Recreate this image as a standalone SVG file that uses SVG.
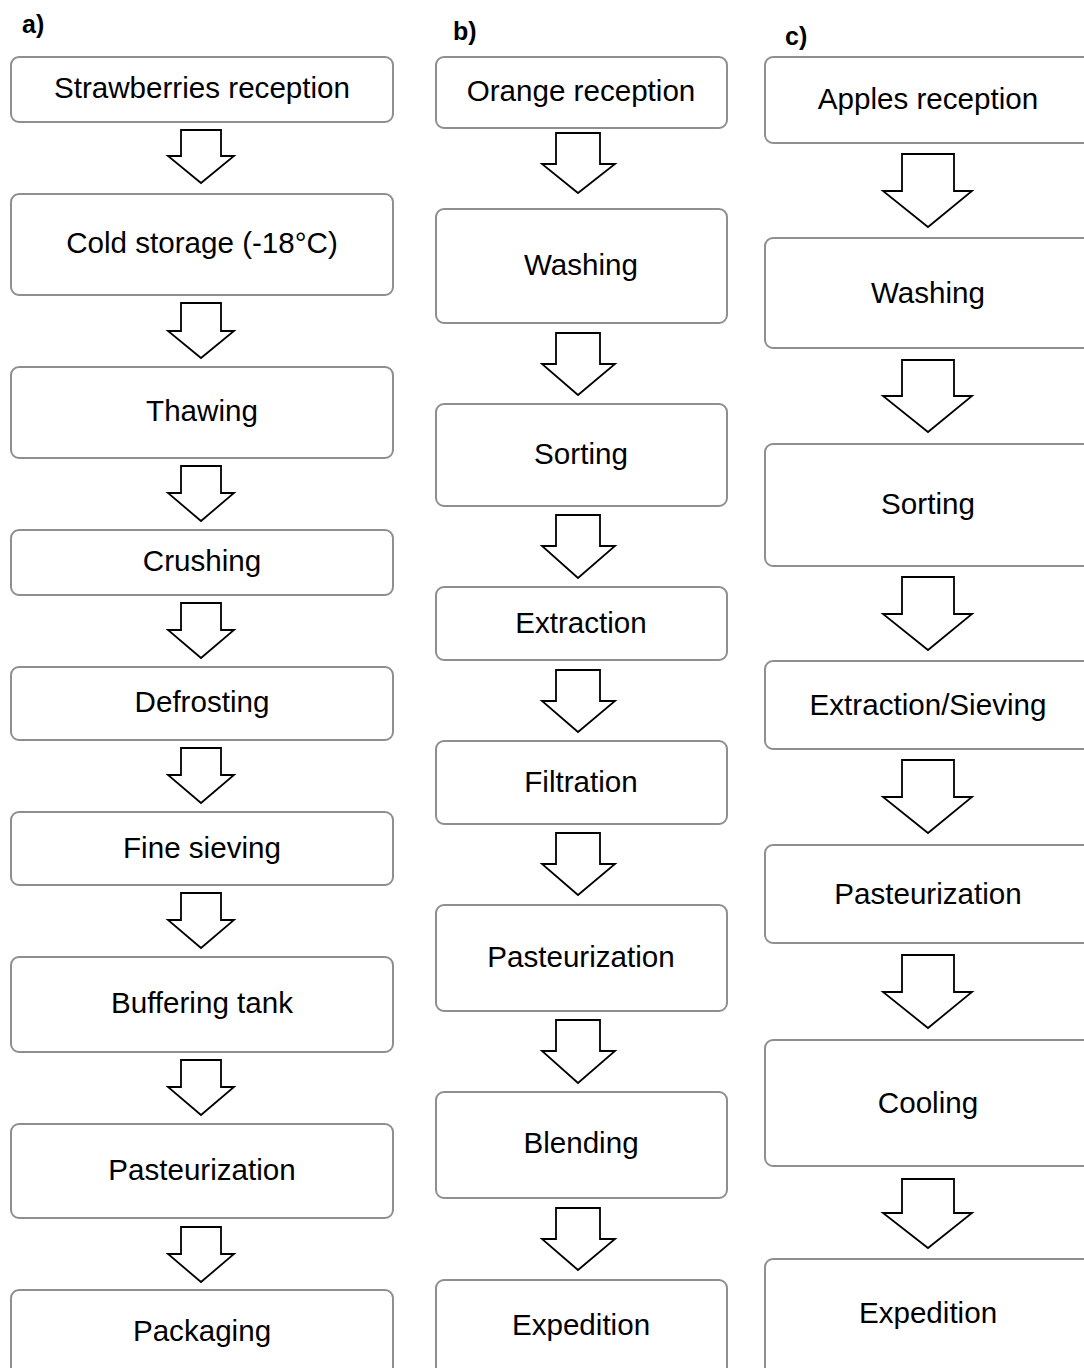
<svg xmlns="http://www.w3.org/2000/svg" width="1084" height="1368" viewBox="0 0 1084 1368">
<style>
.box{fill:#fff;stroke:#8f8f8f;stroke-width:2}
.t{font-family:"Liberation Sans",Arial,sans-serif;font-size:29.6px;fill:#000;text-anchor:middle}
.lbl{font-family:"Liberation Sans",Arial,sans-serif;font-size:25px;font-weight:bold;fill:#000}
.arr{fill:#fff;stroke:#000;stroke-width:1.8;stroke-linejoin:miter}
</style>
<rect width="1084" height="1368" fill="#fff"/>
<text class="lbl" x="22" y="33">a)</text>
<text class="lbl" x="453" y="40">b)</text>
<text class="lbl" x="785" y="45">c)</text>
<g id="connectors">
<polygon class="arr" points="181,130 221,130 221,156 234,156 201,183 168,156 181,156"/>
<polygon class="arr" points="181,303 221,303 221,331 234,331 201,358 168,331 181,331"/>
<polygon class="arr" points="181,466 221,466 221,493 234,493 201,521 168,493 181,493"/>
<polygon class="arr" points="181,603 221,603 221,630 234,630 201,658 168,630 181,630"/>
<polygon class="arr" points="181,748 221,748 221,775 234,775 201,803 168,775 181,775"/>
<polygon class="arr" points="181,893 221,893 221,920 234,920 201,948 168,920 181,920"/>
<polygon class="arr" points="181,1060 221,1060 221,1087 234,1087 201,1115 168,1087 181,1087"/>
<polygon class="arr" points="181,1227 221,1227 221,1254 234,1254 201,1282 168,1254 181,1254"/>
<polygon class="arr" points="556,133 600,133 600,164 615,164 578,193 542,164 556,164"/>
<polygon class="arr" points="556,333 600,333 600,364 615,364 578,395 542,364 556,364"/>
<polygon class="arr" points="556,515 600,515 600,546 615,546 578,578 542,546 556,546"/>
<polygon class="arr" points="556,670 600,670 600,701 615,701 578,732 542,701 556,701"/>
<polygon class="arr" points="556,833 600,833 600,864 615,864 578,895 542,864 556,864"/>
<polygon class="arr" points="556,1020 600,1020 600,1051 615,1051 578,1083 542,1051 556,1051"/>
<polygon class="arr" points="556,1208 600,1208 600,1239 615,1239 578,1270 542,1239 556,1239"/>
<polygon class="arr" points="902,154 954,154 954,191 972,191 928,227 883,191 902,191"/>
<polygon class="arr" points="902,360 954,360 954,396 972,396 928,432 883,396 902,396"/>
<polygon class="arr" points="902,577 954,577 954,614 972,614 928,650 883,614 902,614"/>
<polygon class="arr" points="902,760 954,760 954,797 972,797 928,833 883,797 902,797"/>
<polygon class="arr" points="902,955 954,955 954,992 972,992 928,1028 883,992 902,992"/>
<polygon class="arr" points="902,1179 954,1179 954,1213 972,1213 928,1248 883,1213 902,1213"/>
</g>
<g id="a1"><rect class="box" x="11" y="57" width="382" height="65" rx="8"/><text class="t" x="202" y="98">Strawberries reception</text></g>
<g id="a2"><rect class="box" x="11" y="194" width="382" height="101" rx="8"/><text class="t" x="202" y="253">Cold storage (-18°C)</text></g>
<g id="a3"><rect class="box" x="11" y="367" width="382" height="91" rx="8"/><text class="t" x="202" y="421">Thawing</text></g>
<g id="a4"><rect class="box" x="11" y="530" width="382" height="65" rx="8"/><text class="t" x="202" y="571">Crushing</text></g>
<g id="a5"><rect class="box" x="11" y="667" width="382" height="73" rx="8"/><text class="t" x="202" y="712">Defrosting</text></g>
<g id="a6"><rect class="box" x="11" y="812" width="382" height="73" rx="8"/><text class="t" x="202" y="858">Fine sieving</text></g>
<g id="a7"><rect class="box" x="11" y="957" width="382" height="95" rx="8"/><text class="t" x="202" y="1013">Buffering tank</text></g>
<g id="a8"><rect class="box" x="11" y="1124" width="382" height="94" rx="8"/><text class="t" x="202" y="1180">Pasteurization</text></g>
<g id="a9"><rect class="box" x="11" y="1290" width="382" height="100" rx="8"/><text class="t" x="202" y="1341">Packaging</text></g>
<g id="b1"><rect class="box" x="436" y="57" width="291" height="71" rx="8"/><text class="t" x="581" y="101">Orange reception</text></g>
<g id="b2"><rect class="box" x="436" y="209" width="291" height="114" rx="8"/><text class="t" x="581" y="275">Washing</text></g>
<g id="b3"><rect class="box" x="436" y="404" width="291" height="102" rx="8"/><text class="t" x="581" y="464">Sorting</text></g>
<g id="b4"><rect class="box" x="436" y="587" width="291" height="73" rx="8"/><text class="t" x="581" y="633">Extraction</text></g>
<g id="b5"><rect class="box" x="436" y="741" width="291" height="83" rx="8"/><text class="t" x="581" y="792">Filtration</text></g>
<g id="b6"><rect class="box" x="436" y="905" width="291" height="106" rx="8"/><text class="t" x="581" y="967">Pasteurization</text></g>
<g id="b7"><rect class="box" x="436" y="1092" width="291" height="106" rx="8"/><text class="t" x="581" y="1153">Blending</text></g>
<g id="b8"><rect class="box" x="436" y="1280" width="291" height="110" rx="8"/><text class="t" x="581" y="1335">Expedition</text></g>
<g id="c1"><rect class="box" x="765" y="57" width="326" height="86" rx="8"/><text class="t" x="928" y="109">Apples reception</text></g>
<g id="c2"><rect class="box" x="765" y="238" width="326" height="110" rx="8"/><text class="t" x="928" y="303">Washing</text></g>
<g id="c3"><rect class="box" x="765" y="444" width="326" height="122" rx="8"/><text class="t" x="928" y="514">Sorting</text></g>
<g id="c4"><rect class="box" x="765" y="661" width="326" height="88" rx="8"/><text class="t" x="928" y="715">Extraction/Sieving</text></g>
<g id="c5"><rect class="box" x="765" y="845" width="326" height="98" rx="8"/><text class="t" x="928" y="904">Pasteurization</text></g>
<g id="c6"><rect class="box" x="765" y="1040" width="326" height="126" rx="8"/><text class="t" x="928" y="1113">Cooling</text></g>
<g id="c7"><rect class="box" x="765" y="1259" width="326" height="131" rx="8"/><text class="t" x="928" y="1323">Expedition</text></g>
</svg>
